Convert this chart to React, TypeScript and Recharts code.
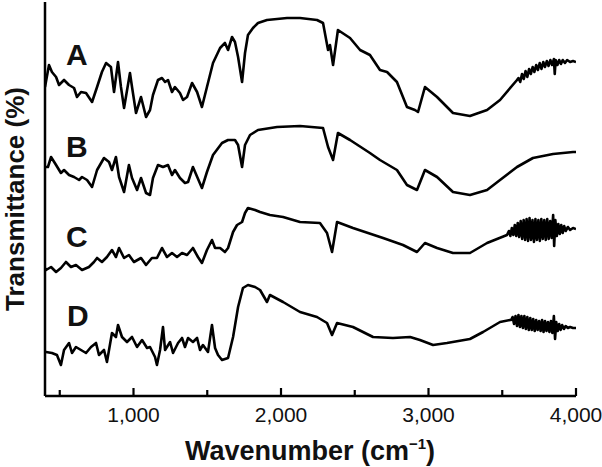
import React from "react";
import { LineChart, Line, XAxis, YAxis } from "recharts";

// Wavenumber (cm-1) / relative transmittance (arbitrary offset units)
const SPECTRUM_A: [number, number][] = [
  [400, 309], [427, 331], [447, 324], [475, 319], [495, 311], [529, 316], [563, 311], [597, 308],
  [617, 299], [644, 304], [678, 303], [719, 294], [753, 309], [786, 324], [814, 333], [847, 329],
  [868, 304], [895, 334], [915, 309], [936, 288], [976, 323], [990, 309], [1017, 283], [1051, 299],
  [1085, 279], [1112, 286], [1132, 301], [1166, 316], [1193, 318], [1214, 314], [1234, 316],
  [1261, 304], [1281, 309], [1315, 303], [1336, 296], [1363, 299], [1397, 313], [1431, 304],
  [1464, 289], [1498, 309], [1539, 333], [1587, 348], [1620, 353], [1641, 346], [1668, 359],
  [1688, 354], [1709, 339], [1736, 314], [1756, 343], [1776, 361], [1810, 368], [1844, 373],
  [1905, 376], [2041, 378], [2129, 378], [2244, 376], [2285, 373], [2319, 346], [2332, 351],
  [2353, 331], [2386, 366], [2468, 358], [2536, 346], [2603, 341], [2671, 326], [2719, 324],
  [2786, 314], [2854, 289], [2908, 286], [2929, 284], [2976, 309], [3058, 299], [3166, 283],
  [3281, 280], [3397, 286], [3485, 296], [3600, 316], [3610, 318], [3622, 314], [3634, 322],
  [3646, 317], [3658, 325], [3670, 319], [3682, 327], [3694, 322], [3706, 329], [3718, 324],
  [3730, 331], [3742, 326], [3754, 333], [3766, 327], [3778, 334], [3790, 329], [3802, 335],
  [3814, 330], [3826, 336], [3838, 331], [3850, 337], [3856, 322], [3862, 336], [3874, 331],
  [3886, 336], [3898, 332], [3910, 336], [3925, 333], [3940, 336], [3960, 334], [3980, 335],
  [4000, 334],
];

const SPECTRUM_B: [number, number][] = [
  [400, 229], [420, 229], [441, 239], [475, 231], [508, 223], [529, 226], [563, 221], [597, 219],
  [631, 216], [651, 219], [685, 216], [719, 209], [753, 226], [800, 238], [834, 234], [854, 226],
  [881, 239], [902, 219], [936, 204], [969, 231], [990, 218], [1024, 206], [1051, 218], [1085, 203],
  [1112, 201], [1132, 218], [1166, 231], [1200, 229], [1234, 231], [1261, 221], [1281, 226],
  [1315, 218], [1349, 213], [1370, 214], [1403, 229], [1464, 208], [1498, 224], [1539, 241],
  [1600, 253], [1641, 256], [1688, 256], [1709, 251], [1736, 229], [1756, 251], [1790, 261],
  [1844, 266], [1973, 269], [2129, 270], [2285, 268], [2319, 249], [2353, 236], [2386, 263],
  [2468, 256], [2603, 243], [2671, 236], [2786, 226], [2854, 211], [2922, 206], [2976, 226],
  [3058, 219], [3166, 204], [3281, 201], [3397, 206], [3485, 216], [3600, 229], [3708, 238],
  [3844, 242], [3980, 244], [4000, 244],
];

const SPECTRUM_C: [number, number][] = [
  [400, 128], [407, 126], [441, 129], [475, 124], [508, 128], [542, 134], [576, 129], [610, 131],
  [651, 126], [698, 129], [732, 134], [753, 138], [786, 134], [820, 139], [854, 146], [881, 139],
  [902, 148], [936, 138], [969, 141], [1003, 134], [1051, 138], [1085, 131], [1125, 138],
  [1159, 138], [1193, 148], [1227, 139], [1261, 143], [1295, 139], [1329, 143], [1363, 141],
  [1403, 148], [1437, 139], [1464, 133], [1498, 146], [1532, 156], [1553, 148], [1587, 148],
  [1620, 144], [1641, 148], [1675, 164], [1702, 171], [1736, 174], [1756, 183], [1776, 188],
  [1824, 186], [1858, 184], [1925, 181], [2014, 179], [2129, 174], [2264, 173], [2312, 163],
  [2346, 144], [2380, 174], [2488, 168], [2692, 158], [2827, 151], [2922, 144], [2976, 153],
  [3058, 148], [3166, 143], [3281, 143], [3397, 153], [3532, 161], [3545, 165], [3555, 160],
  [3565, 168], [3575, 161], [3585, 171], [3595, 160], [3605, 173], [3615, 159], [3625, 175],
  [3635, 157], [3645, 176], [3655, 156], [3665, 177], [3675, 155], [3685, 178], [3695, 156],
  [3705, 176], [3715, 154], [3725, 177], [3735, 156], [3745, 176], [3755, 155], [3765, 177],
  [3775, 157], [3785, 176], [3795, 156], [3805, 177], [3815, 157], [3825, 175], [3835, 158],
  [3845, 181], [3852, 150], [3860, 176], [3870, 160], [3880, 172], [3890, 162], [3900, 171],
  [3910, 163], [3920, 170], [3930, 165], [3945, 169], [3960, 166], [3980, 168], [4000, 167],
];

const SPECTRUM_D: [number, number][] = [
  [400, 44], [407, 44], [447, 43], [481, 41], [508, 31], [529, 46], [563, 53], [583, 43],
  [610, 49], [644, 46], [678, 43], [712, 49], [746, 53], [766, 41], [800, 46], [820, 34],
  [854, 63], [881, 59], [895, 71], [922, 59], [956, 54], [990, 59], [1024, 49], [1058, 56],
  [1092, 48], [1112, 49], [1146, 39], [1159, 31], [1180, 46], [1200, 69], [1214, 46], [1248, 54],
  [1268, 43], [1302, 53], [1329, 58], [1349, 49], [1370, 58], [1403, 54], [1431, 58], [1451, 46],
  [1471, 51], [1505, 44], [1532, 71], [1553, 48], [1573, 41], [1600, 36], [1641, 38], [1675, 59],
  [1709, 89], [1742, 108], [1776, 111], [1824, 109], [1858, 106], [1905, 94], [1925, 101],
  [2014, 94], [2129, 84], [2244, 79], [2312, 73], [2346, 61], [2380, 73], [2488, 69], [2624, 59],
  [2759, 58], [2875, 59], [2942, 56], [3031, 51], [3125, 53], [3281, 57], [3370, 64], [3485, 74],
  [3553, 76], [3560, 76], [3570, 79], [3580, 72], [3590, 80], [3600, 70], [3610, 81], [3620, 69],
  [3630, 80], [3640, 68], [3650, 80], [3660, 67], [3670, 79], [3680, 66], [3690, 78], [3700, 66],
  [3710, 77], [3720, 65], [3730, 76], [3740, 66], [3750, 75], [3760, 65], [3770, 76], [3780, 64],
  [3790, 75], [3800, 65], [3810, 74], [3820, 64], [3830, 75], [3840, 63], [3850, 80], [3858, 57],
  [3866, 74], [3876, 65], [3886, 72], [3896, 66], [3906, 71], [3918, 67], [3930, 70], [3945, 68],
  [3960, 69], [3980, 68], [4000, 68],
];

const X_TICKS = [500, 1000, 1500, 2000, 2500, 3000, 3500, 4000];
const X_LABELS = ["1,000", "2,000", "3,000", "4,000"];
const SERIES_NAMES = ["A", "B", "C", "D"];

const toRows = (arr: [number, number][]) => arr.map(([w, t]) => ({ w, t }));
const SERIES = [SPECTRUM_A, SPECTRUM_B, SPECTRUM_C, SPECTRUM_D].map(toRows);

const FONT = "'Liberation Sans', Arial, Helvetica, sans-serif";
const W = 602;
const H = 467;

const XTick = (props: any) => {
  const { x, y, payload } = props;
  const v: number = payload.value;
  const major = v % 1000 === 0;
  const idx = major ? v / 1000 - 1 : -1;
  return (
    <g>
      <line x1={x} x2={x} y1={y} y2={y - (major ? 8 : 6)} stroke="#000" strokeWidth={2.2} />
      {major && idx >= 0 && (
        <text x={x} y={y + 26} textAnchor="middle" fontSize={21} fontFamily={FONT} fill="#111">
          {X_LABELS[idx]}
        </text>
      )}
    </g>
  );
};

const LETTER_POS = [
  { x: 66, y: 65 },
  { x: 66, y: 157 },
  { x: 66, y: 247 },
  { x: 67, y: 326 },
];

export default function App() {
  return (
    <div style={{ position: "absolute", left: 0, top: 0, width: W, height: H, background: "#fff" }}>
      <LineChart width={W} height={H} margin={{ top: 2, right: 26, left: 0, bottom: 0 }}>
        <XAxis
          xAxisId="b"
          dataKey="w"
          type="number"
          domain={[400, 4000]}
          ticks={X_TICKS}
          interval={0}
          allowDataOverflow
          height={71}
          tickSize={0}
          tickMargin={0}
          tickLine={false}
          tick={<XTick />}
          axisLine={{ stroke: "#000", strokeWidth: 2.5 }}
        />
        <XAxis
          xAxisId="t"
          orientation="top"
          dataKey="w"
          type="number"
          domain={[400, 4000]}
          height={0}
          tick={false}
          tickLine={false}
          axisLine={{ stroke: "#000", strokeWidth: 2.5 }}
        />
        <YAxis
          yAxisId="l"
          type="number"
          domain={[0, 394]}
          width={45}
          tick={false}
          tickLine={false}
          axisLine={{ stroke: "#000", strokeWidth: 2.5 }}
        />
        <YAxis
          yAxisId="r"
          orientation="right"
          type="number"
          domain={[0, 394]}
          width={0}
          tick={false}
          tickLine={false}
          axisLine={{ stroke: "#000", strokeWidth: 2.5 }}
        />
        {SERIES.map((rows, i) => (
          <Line
            key={SERIES_NAMES[i]}
            xAxisId="b"
            yAxisId="l"
            data={rows}
            dataKey="t"
            type="linear"
            stroke="#000"
            strokeWidth={2.6}
            strokeLinejoin="round"
            dot={false}
            activeDot={false}
            isAnimationActive={false}
          />
        ))}
      </LineChart>
      <svg
        width={W}
        height={H}
        style={{ position: "absolute", left: 0, top: 0, pointerEvents: "none" }}
      >
        {SERIES_NAMES.map((n, i) => (
          <text
            key={n}
            x={LETTER_POS[i].x}
            y={LETTER_POS[i].y}
            fontSize={30}
            fontWeight="bold"
            fontFamily={FONT}
            fill="#111"
          >
            {n}
          </text>
        ))}
        <text
          x={310}
          y={460}
          textAnchor="middle"
          fontSize={27}
          fontWeight="bold"
          fontFamily={FONT}
          fill="#111"
        >
          Wavenumber (cm
          <tspan fontSize={15} dy={-11}>−1</tspan>
          <tspan dy={11}>)</tspan>
        </text>
        <text
          x={24}
          y={199}
          transform="rotate(-90 24 199)"
          textAnchor="middle"
          fontSize={26}
          fontWeight="bold"
          fontFamily={FONT}
          fill="#111"
        >
          Transmittance (%)
        </text>
      </svg>
    </div>
  );
}
